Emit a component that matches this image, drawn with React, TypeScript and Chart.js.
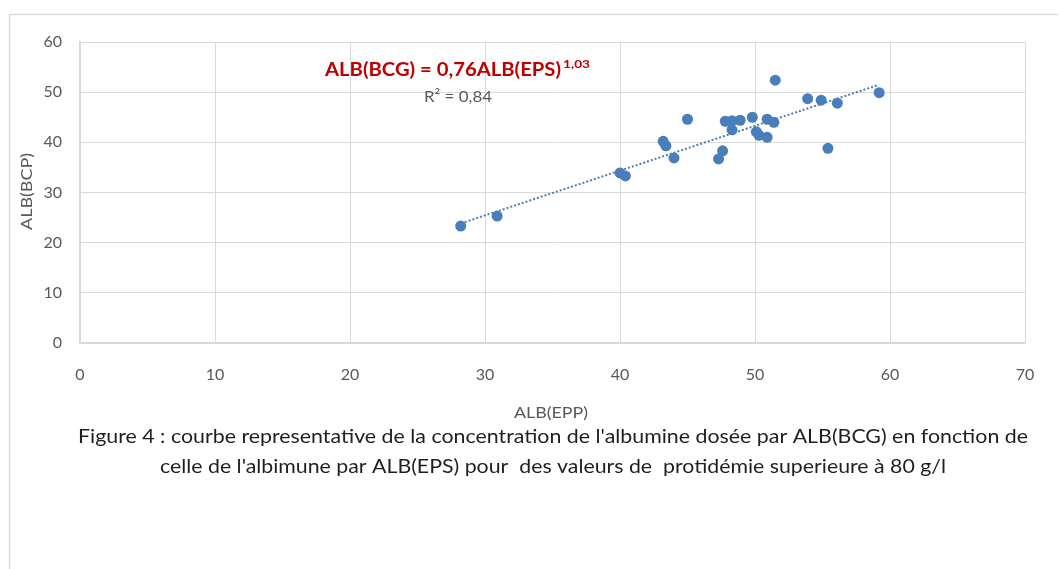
import React, { useEffect, useRef } from "react";
import { Chart, registerables } from "chart.js";

Chart.register(...registerables);

// ALB(EPP) values (x) and ALB(BCP) values (y)
const eppValues = [28.2, 30.9, 40.0, 40.4, 43.2, 43.4, 44.0, 45.0, 47.3, 47.6, 47.8, 48.3, 48.3, 48.9, 49.8, 50.1, 50.3, 50.9, 50.9, 51.4, 51.5, 53.9, 54.9, 55.4, 56.1, 59.2];
const bcpValues = [23.3, 25.3, 33.9, 33.3, 40.2, 39.3, 36.9, 44.6, 36.7, 38.3, 44.2, 44.3, 42.5, 44.4, 45.0, 42.1, 41.4, 41.0, 44.6, 44.0, 52.4, 48.7, 48.4, 38.8, 47.8, 49.9];

// Trendline end points (power trend shown in figure)
const trendX = [28.5, 59.1];
const trendY = [24.1, 51.4];

const xTicks = [0, 10, 20, 30, 40, 50, 60, 70];
const yTicks = [0, 10, 20, 30, 40, 50, 60];

const equationMain = "ALB(BCG) = 0,76ALB(EPS)";
const equationExp = "1,03";
const r2Label = "R² = 0,84";
const xTitle = "ALB(EPP)";
const yTitle = "ALB(BCP)";
const captionLines = [
  "Figure 4 : courbe representative de la concentration de l'albumine dosée par ALB(BCG) en fonction de",
  "celle de l'albimune par ALB(EPS) pour  des valeurs de  protidémie superieure à 80 g/l",
];

const FONT = "Lato, 'Open Sans', sans-serif";

function fitText(ctx: CanvasRenderingContext2D, text: string, x: number, y: number, width: number) {
  const w = ctx.measureText(text).width;
  ctx.save();
  ctx.translate(x, y);
  ctx.scale(width / w, 1);
  ctx.textAlign = "left";
  ctx.fillText(text, 0, 0);
  ctx.restore();
}

const decorPlugin = {
  id: "decor",
  beforeDraw(chart: any) {
    const ctx = chart.ctx as CanvasRenderingContext2D;
    ctx.save();
    ctx.strokeStyle = "#d9d9d9";
    ctx.lineWidth = 1.5;
    ctx.beginPath();
    ctx.moveTo(9.5, 569);
    ctx.lineTo(9.5, 14.5);
    ctx.lineTo(1058, 14.5);
    ctx.stroke();
    ctx.restore();
  },
  afterDraw(chart: any) {
    const ctx = chart.ctx as CanvasRenderingContext2D;
    ctx.save();
    ctx.textBaseline = "middle";
    // equation
    ctx.fillStyle = "#c00000";
    ctx.font = `bold 18px ${FONT}`;
    fitText(ctx, equationMain, 325, 70, 236);
    ctx.font = `bold 12px ${FONT}`;
    fitText(ctx, equationExp, 563, 64, 27);
    // R2
    ctx.fillStyle = "#595959";
    ctx.font = `16px ${FONT}`;
    fitText(ctx, r2Label, 424, 97, 68);
    // axis titles
    ctx.font = `16px ${FONT}`;
    fitText(ctx, xTitle, 514, 413, 74);
    ctx.save();
    ctx.translate(27, 192);
    ctx.rotate(-Math.PI / 2);
    fitText(ctx, yTitle, -38, 0, 77);
    ctx.restore();
    // caption
    ctx.fillStyle = "#1f1f1f";
    ctx.font = `20px ${FONT}`;
    fitText(ctx, captionLines[0], 78, 437, 950);
    fitText(ctx, captionLines[1], 160, 467, 786);
    ctx.restore();
  },
};

export default function App() {
  const ref = useRef<HTMLCanvasElement>(null);
  useEffect(() => {
    document.body.style.margin = "0";
    if (!ref.current) return;
    const points = eppValues.map((x, i) => ({ x, y: bcpValues[i] }));
    const trend = trendX.map((x, i) => ({ x, y: trendY[i] }));
    const chart = new Chart(ref.current, {
      type: "scatter",
      data: {
        datasets: [
          {
            type: "line",
            data: trend,
            borderColor: "#4a7ebb",
            borderWidth: 2,
            borderDash: [2, 2],
            pointRadius: 0,
            fill: false,
          } as any,
          {
            data: points,
            backgroundColor: "#4a7ebb",
            borderColor: "#4a7ebb",
            pointRadius: 5.5,
            pointBorderWidth: 0,
          },
        ],
      },
      options: {
        animation: false,
        responsive: false,
        events: [],
        layout: { padding: { left: 0, top: 42, right: 34, bottom: 0 } },
        plugins: { legend: { display: false }, tooltip: { enabled: false }, title: { display: false } },
        scales: {
          x: {
            type: "linear",
            min: 0,
            max: 70,
            afterBuildTicks: (s: any) => { s.ticks = xTicks.map((v) => ({ value: v })); },
            afterFit: (s: any) => { s.height = 569 - 343; },
            grid: { color: "#d9d9d9", drawTicks: false, lineWidth: 1 },
            border: { color: "#d9d9d9", width: 1.5 },
            ticks: { color: "#595959", font: { family: FONT, size: 16 }, padding: 22, maxRotation: 0 },
          },
          y: {
            type: "linear",
            min: 0,
            max: 60,
            afterBuildTicks: (s: any) => { s.ticks = yTicks.map((v) => ({ value: v })); },
            afterFit: (s: any) => { s.width = 80; },
            grid: { color: "#d9d9d9", drawTicks: false, lineWidth: 1 },
            border: { color: "#d9d9d9", width: 1.5 },
            ticks: { color: "#595959", font: { family: FONT, size: 16 }, padding: 18 },
          },
        },
      },
      plugins: [decorPlugin],
    });
    return () => chart.destroy();
  }, []);
  return (
    <div style={{ width: 1059, height: 569, background: "#fff" }}>
      <canvas ref={ref} width={1059} height={569} style={{ display: "block" }} />
    </div>
  );
}
